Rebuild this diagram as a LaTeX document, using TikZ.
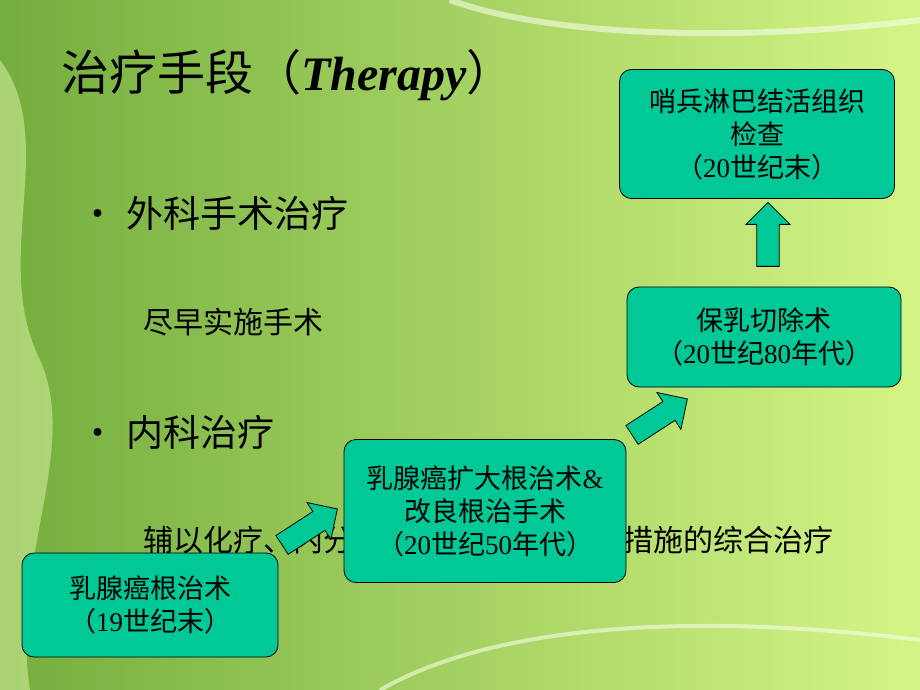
\documentclass[tikz,border=0pt]{standalone}
\usepackage{fontspec}
\setmainfont{Noto Sans CJK SC}
\newfontfamily\latinserif{Liberation Serif}
\usetikzlibrary{shapes.arrows,positioning}

\definecolor{boxgreen}{HTML}{00C896}
\definecolor{bgdark}{HTML}{74AE3E}
\definecolor{bglight}{HTML}{D4F586}

\tikzset{
  stage/.style={draw=black, fill=boxgreen, rounded corners=12pt, line width=0.8pt,
    align=center, font=\fontsize{27}{33}\selectfont, inner sep=0pt},
  fatarrow/.style={single arrow, draw=black, fill=boxgreen, line width=0.8pt,
    minimum height=66pt, minimum width=44pt, single arrow head extend=10pt,
    inner xsep=0pt, inner ysep=10pt},
  body/.style={anchor=west, font=\fontsize{37}{40}\selectfont},
  note/.style={anchor=west, font=\fontsize{30}{34}\selectfont},
}

\begin{document}
\begin{tikzpicture}[x=1pt,y=-1pt]
	% background
	\shade[left color=bgdark, right color=bglight] (0,0) rectangle (920,690);
	\useasboundingbox (0,0) rectangle (920,690);
	\fill[bglight!70!white, opacity=0.5] (0,60) .. controls (60,140) and (-10,260) .. (40,360)
		.. controls (80,450) and (10,560) .. (30,690) -- (0,690) -- (0,60);
	\draw[white!80!bglight, line width=6pt, opacity=0.6] (450,0) .. controls (560,40) and (760,40) .. (920,20);
	\draw[white!80!bglight, line width=4pt, opacity=0.6] (380,690) .. controls (520,610) and (760,620) .. (920,640);
	% title
	\node[anchor=west, font=\fontsize{48}{52}\selectfont\itshape] (title) at (58,75)
		{治疗手段（{\latinserif\bfseries Therapy}）};
	% bullets
	\node[body] (b1) at (76,213) {•\hspace{10pt}外科手术治疗};
	\node[note] (s1) at (140,322) {尽早实施手术};
	\node[body] (b2) at (76,432) {•\hspace{10pt}内科治疗};
	\node[note] (s2) at (140,540)
		{辅以化疗、内分泌治疗、放射治疗等措施的综合治疗};
	% stages
	\node[stage, minimum width=256pt, minimum height=104pt] (st1) at (150,605)
		{乳腺癌根治术\\（{\latinserif 19}世纪末）};
	\node[stage, minimum width=282pt, minimum height=143pt] (st2) at (485,511)
		{乳腺癌扩大根治术{\latinserif\&}\\改良根治手术\\（{\latinserif 20}世纪{\latinserif 50}年代）};
	\node[stage, minimum width=274pt, minimum height=100pt] (st3) at (764,337)
		{保乳切除术\\（{\latinserif 20}世纪{\latinserif 80}年代）};
	\node[stage, minimum width=275pt, minimum height=129pt] (st4) at (757,134)
		{哨兵淋巴结活组织\\检查\\（{\latinserif 20}世纪末）};
	% arrows
	\node[fatarrow, rotate=33] (a1) at (305,530) {};
	\node[fatarrow, rotate=33] (a2) at (655,420) {};
	\node[fatarrow, rotate=90, minimum height=64pt] (a3) at (768,240) {};
\end{tikzpicture}
\end{document}
